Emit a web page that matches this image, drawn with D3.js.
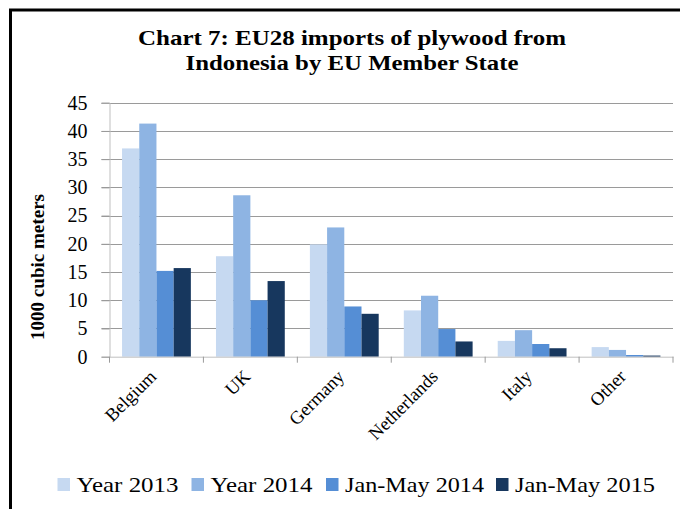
<!DOCTYPE html>
<html>
<head>
<meta charset="utf-8">
<script src="https://cdn.jsdelivr.net/npm/d3@7/dist/d3.min.js"></script>
<style>
  html, body { margin: 0; padding: 0; background: #fff; overflow: hidden; }
  svg { display: block; }
</style>
</head>
<body>
<script>
const categories = ["Belgium", "UK", "Germany", "Netherlands", "Italy", "Other"];
const seriesNames = ["Year 2013", "Year 2014", "Jan-May 2014", "Jan-May 2015"];
const year2013 = [36.9, 17.8, 19.9, 8.2, 2.8, 1.7];
const year2014 = [41.3, 28.6, 22.9, 10.8, 4.7, 1.2];
const janMay2014 = [15.2, 10.0, 8.9, 4.9, 2.25, 0.3];
const janMay2015 = [15.7, 13.4, 7.6, 2.7, 1.5, 0.2];
const yTicks = [0, 5, 10, 15, 20, 25, 30, 35, 40, 45];
const colors = ["#C6D9F1", "#8EB4E3", "#558ED5", "#17375E"];
const titleLines = ["Chart 7: EU28 imports of plywood from", "Indonesia by EU Member State"];
const yAxisTitle = "1000 cubic meters";

const seriesValues = [year2013, year2014, janMay2014, janMay2015];
const W = 680, H = 509;
const svg = d3.select("body").append("svg").attr("width", W).attr("height", H);

// frame (top and left edges only; the rest lies outside the picture)
svg.append("path").attr("d", `M10.5,${H}V10H${W}`)
  .attr("fill", "none").attr("stroke", "#000").attr("stroke-width", 3);

const plot = { left: 109.5, right: 673, top: 102.7, bottom: 356.7 };
const y = d3.scaleLinear().domain([0, 45]).range([plot.bottom, plot.top]);
const x0 = d3.scaleBand().domain(categories).range([plot.left, plot.right]).paddingInner(0).paddingOuter(0);
const x1 = d3.scaleBand().domain(seriesNames).range([0, x0.bandwidth()]).paddingInner(0).paddingOuter(0.73);

const serif = "'Liberation Serif', 'DejaVu Serif', serif";

// gridlines
svg.append("g").selectAll("line").data(yTicks.filter(d => d > 0)).join("line")
  .attr("x1", plot.left - 8).attr("x2", plot.right)
  .attr("y1", d => Math.round(y(d)) + 0.5).attr("y2", d => Math.round(y(d)) + 0.5)
  .attr("stroke", "#9A9A9A").attr("stroke-width", 1);

// y axis
const yAxis = d3.axisLeft(y).tickValues(yTicks).tickSize(8).tickPadding(14).tickFormat(d3.format("d"));
const gy = svg.append("g").attr("transform", `translate(${plot.left},0)`).call(yAxis);
gy.select(".domain").attr("stroke", "#BFBFBF");
gy.selectAll(".tick line").attr("stroke", "#9A9A9A");
gy.selectAll(".tick text").attr("font-family", serif).attr("font-size", 20).attr("fill", "#000");

// bars
const groups = svg.append("g").selectAll("g").data(categories).join("g")
  .attr("transform", d => `translate(${x0(d)},0)`);
groups.selectAll("rect").data((c, i) => seriesNames.map((s, j) => ({ s, j, v: seriesValues[j][i] })))
  .join("rect")
  .attr("x", d => x1(d.s)).attr("width", x1.bandwidth())
  .attr("y", d => y(d.v)).attr("height", d => y(0) - y(d.v))
  .attr("fill", d => colors[d.j]);

// x axis
const xAxis = d3.axisBottom(x0).tickSize(0).tickSizeOuter(0).tickFormat("");
const gx = svg.append("g").attr("transform", `translate(0,${plot.bottom})`).call(xAxis);
gx.select(".domain").attr("stroke", "#BFBFBF");
const boundaries = categories.map(c => x0(c)).concat([plot.right]);
svg.append("g").selectAll("line").data(boundaries).join("line")
  .attr("x1", d => d).attr("x2", d => d).attr("y1", plot.bottom).attr("y2", plot.bottom + 6)
  .attr("stroke", "#9A9A9A");

// category labels
svg.append("g").selectAll("text").data(categories).join("text")
  .attr("transform", d => `translate(${x0(d) + x0.bandwidth() / 2 + 1},${plot.bottom + 21}) rotate(-45)`)
  .attr("text-anchor", "end")
  .attr("font-family", serif).attr("font-size", 18.5).attr("fill", "#000")
  .text(d => d);

// y axis title
svg.append("text")
  .attr("transform", `translate(44,267) rotate(-90)`)
  .attr("text-anchor", "middle")
  .attr("font-family", serif).attr("font-weight", "bold").attr("font-size", 18)
  .attr("textLength", 146).attr("lengthAdjust", "spacingAndGlyphs")
  .text(yAxisTitle);

// title
const tl = [{ t: titleLines[0], y: 45, w: 428 }, { t: titleLines[1], y: 70, w: 333 }];
svg.append("g").selectAll("text").data(tl).join("text")
  .attr("x", 352).attr("y", d => d.y).attr("text-anchor", "middle")
  .attr("font-family", serif).attr("font-weight", "bold").attr("font-size", 22)
  .attr("textLength", d => d.w).attr("lengthAdjust", "spacingAndGlyphs")
  .text(d => d.t);

// legend
const legX = [57.5, 191.5, 326, 496];
const legW = [102, 102, 139, 140];
const leg = svg.append("g").selectAll("g").data(seriesNames).join("g")
  .attr("transform", (d, i) => `translate(${legX[i]},0)`);
leg.append("rect").attr("x", 0).attr("y", 478).attr("width", 12.5).attr("height", 13)
  .attr("fill", (d, i) => colors[i]);
leg.append("text").attr("x", 19).attr("y", 492)
  .attr("font-family", serif).attr("font-size", 22).attr("fill", "#000")
  .attr("textLength", (d, i) => legW[i]).attr("lengthAdjust", "spacingAndGlyphs")
  .text(d => d);
</script>
</body>
</html>
